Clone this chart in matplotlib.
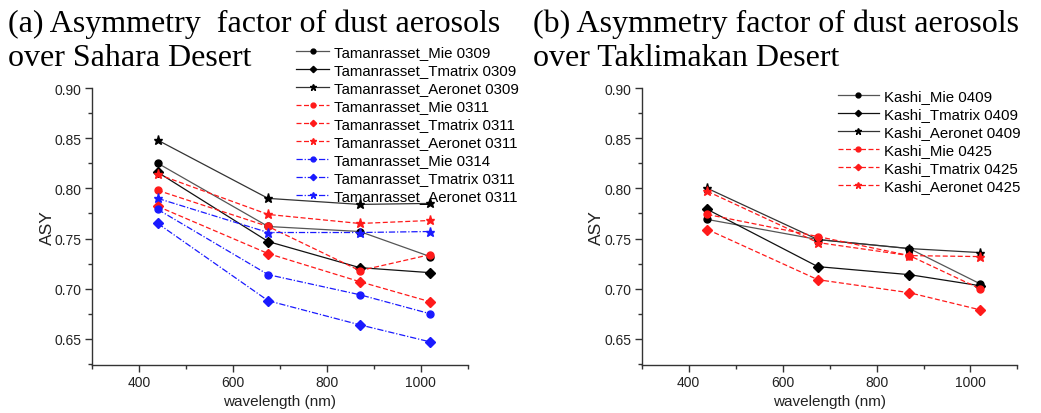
import matplotlib
matplotlib.use("Agg")
import matplotlib.pyplot as plt
from matplotlib.ticker import MultipleLocator

plt.rcParams['font.family'] = ['Liberation Sans', 'DejaVu Sans']

wavelength = [440, 675, 870, 1020]

# (a) Tamanrasset, Sahara
tam_labels = ["Tamanrasset_Mie 0309", "Tamanrasset_Tmatrix 0309", "Tamanrasset_Aeronet 0309",
              "Tamanrasset_Mie 0311", "Tamanrasset_Tmatrix 0311", "Tamanrasset_Aeronet 0311",
              "Tamanrasset_Mie 0314", "Tamanrasset_Tmatrix 0311", "Tamanrasset_Aeronet 0311"]
tam_values = [
    [0.825, 0.762, 0.757, 0.732],
    [0.816, 0.747, 0.721, 0.716],
    [0.848, 0.790, 0.784, 0.785],
    [0.798, 0.762, 0.718, 0.734],
    [0.782, 0.735, 0.707, 0.687],
    [0.814, 0.774, 0.765, 0.768],
    [0.779, 0.714, 0.694, 0.675],
    [0.765, 0.688, 0.664, 0.647],
    [0.790, 0.756, 0.756, 0.757],
]

# (b) Kashi, Taklimakan
kas_labels = ["Kashi_Mie 0409", "Kashi_Tmatrix 0409", "Kashi_Aeronet 0409",
              "Kashi_Mie 0425", "Kashi_Tmatrix 0425", "Kashi_Aeronet 0425"]
kas_values = [
    [0.769, 0.749, 0.740, 0.705],
    [0.779, 0.722, 0.714, 0.703],
    [0.800, 0.749, 0.740, 0.736],
    [0.774, 0.752, 0.733, 0.700],
    [0.759, 0.709, 0.696, 0.679],
    [0.797, 0.746, 0.733, 0.732],
]

markers = ['o', 'D', '*']
group_styles = [('#222222', '-'), ('#ff1a1a', (0, (4, 2))), ('#1a1aff', (0, (5, 1.5, 1, 1.5)))]
black_shades = ['#555555', '#111111', '#333333']

fig = plt.figure(figsize=(10.41, 4.14), dpi=100)
ax1 = fig.add_axes([0.0884, 0.116, 0.361, 0.669])
ax2 = fig.add_axes([0.6164, 0.116, 0.361, 0.669])


def draw(ax, labels, values):
    for i, (lab, vals) in enumerate(zip(labels, values)):
        g = i // 3
        color, ls = group_styles[g]
        if g == 0:
            color = black_shades[i % 3]
        mk = markers[i % 3]
        ms = 5 if mk == 'o' else (4.6 if mk == 'D' else 6.5)
        ax.plot(wavelength, vals, color=color, linestyle=ls, linewidth=0.9,
                marker=mk, markersize=ms, markerfacecolor=color if g else 'black',
                markeredgecolor=color if g else 'black', label=lab)
    ax.set_xlim(300, 1100)
    ax.set_ylim(0.624, 0.90)
    ax.xaxis.set_major_locator(MultipleLocator(200))
    ax.xaxis.set_minor_locator(MultipleLocator(100))
    ax.yaxis.set_major_locator(MultipleLocator(0.05))
    ax.yaxis.set_minor_locator(MultipleLocator(0.025))
    ax.yaxis.set_major_formatter(plt.FormatStrFormatter('%.2f'))
    for s in ['top', 'right']:
        ax.spines[s].set_visible(False)
    for s in ['left', 'bottom']:
        ax.spines[s].set_color('#333333')
        ax.spines[s].set_linewidth(1.0)
    ax.tick_params(which='major', length=5, width=1, color='#333333', labelsize=10,
                   labelcolor='#222222', pad=2.5)
    ax.tick_params(which='minor', length=3, width=1, color='#333333')
    ax.set_xlabel('wavelength (nm)', fontsize=11, color='#222222', labelpad=3)
    ax.set_ylabel('ASY', fontsize=12.5, color='#222222', labelpad=0)


draw(ax1, tam_labels, tam_values)
draw(ax2, kas_labels, kas_values)

leg_kw = dict(loc='upper left', frameon=False, fontsize=10.8, labelspacing=0.27,
              handletextpad=0.35, borderpad=0, borderaxespad=0, markerscale=0.7)
fig.legend(handles=ax1.get_lines(), bbox_transform=fig.transFigure, handlelength=2.2,
           bbox_to_anchor=(296 / 1041, 1 - 46 / 414), **leg_kw)
fig.legend(handles=ax2.get_lines(), bbox_transform=fig.transFigure, handlelength=2.7,
           bbox_to_anchor=(838 / 1041, 1 - 90 / 414), **leg_kw)

title_kw = dict(fontsize=23, family=['Liberation Serif', 'DejaVu Serif'], va='baseline',
                ha='left', linespacing=1.22)
fig.text(8 / 1041, 1 - 66 / 414, "(a) Asymmetry  factor of dust aerosols\nover Sahara Desert", **title_kw)
fig.text(533 / 1041, 1 - 66 / 414, "(b) Asymmetry factor of dust aerosols\nover Taklimakan Desert", **title_kw)

fig.savefig('out.png', dpi=100)
